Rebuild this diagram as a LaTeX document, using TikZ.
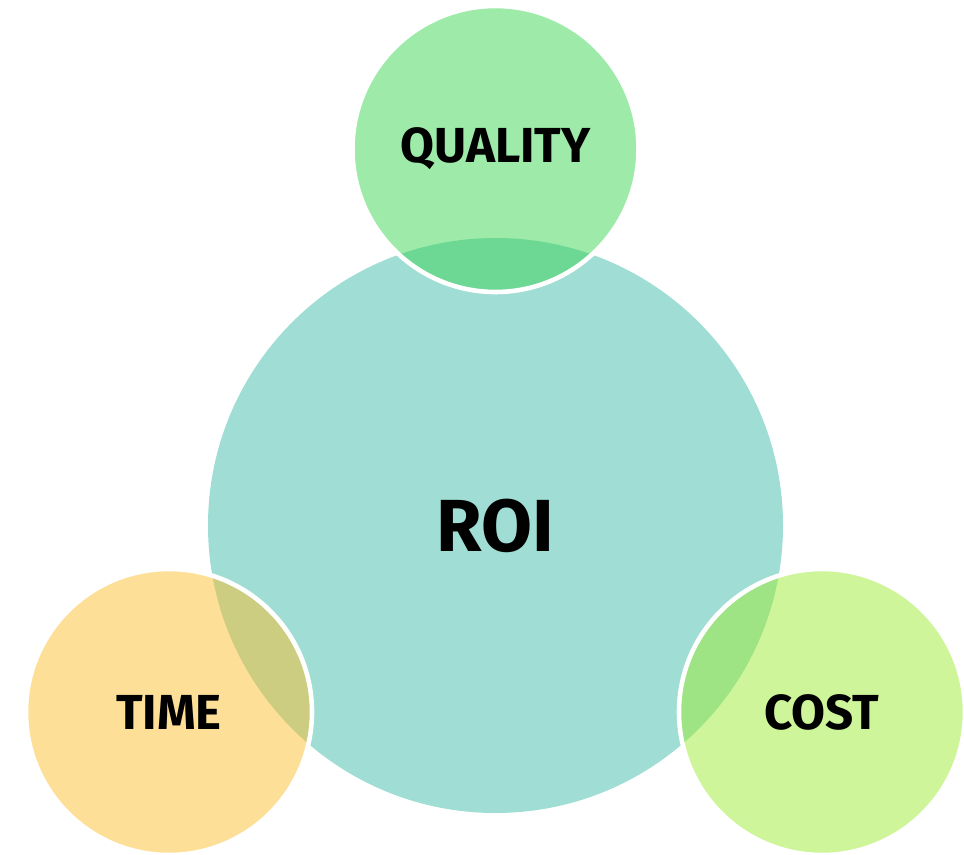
\documentclass[tikz,border=0pt]{standalone}
\usepackage{fontspec}
\setmainfont{Fira Sans}
\usepackage{xcolor}
\usepackage{tikz}
\definecolor{roi}{HTML}{A0DDD5}
\definecolor{quality}{HTML}{3BD553}
\definecolor{time}{HTML}{FBBF31}
\definecolor{cost}{HTML}{9DEB35}
\tikzset{
  bigcircle/.style={circle, fill=roi, inner sep=0pt, minimum size=11.5cm},
  smallcircle/.style={circle, draw=white, line width=2.6pt, fill opacity=0.5, text opacity=1, inner sep=0pt, minimum size=5.72cm},
  lab/.style={font=\bfseries\fontsize{28}{30}\selectfont},
  biglab/.style={font=\bfseries\fontsize{42}{46}\selectfont},
}
\begin{document}
\begin{tikzpicture}
  \useasboundingbox (0,0) rectangle (19.28,17.08);

  \node[bigcircle] (roi) at (9.91,6.57) {};
  \node[smallcircle, fill=quality] (quality) at (9.91,14.10) {};
  \node[smallcircle, fill=time] (time) at (3.38,2.84) {};
  \node[smallcircle, fill=cost] (cost) at (16.44,2.84) {};

  \node[biglab] at (roi) {ROI};
  \node[lab] at (quality) {QUALITY};
  \node[lab] at (time) {TIME};
  \node[lab] at (cost) {COST};
\end{tikzpicture}
\end{document}
